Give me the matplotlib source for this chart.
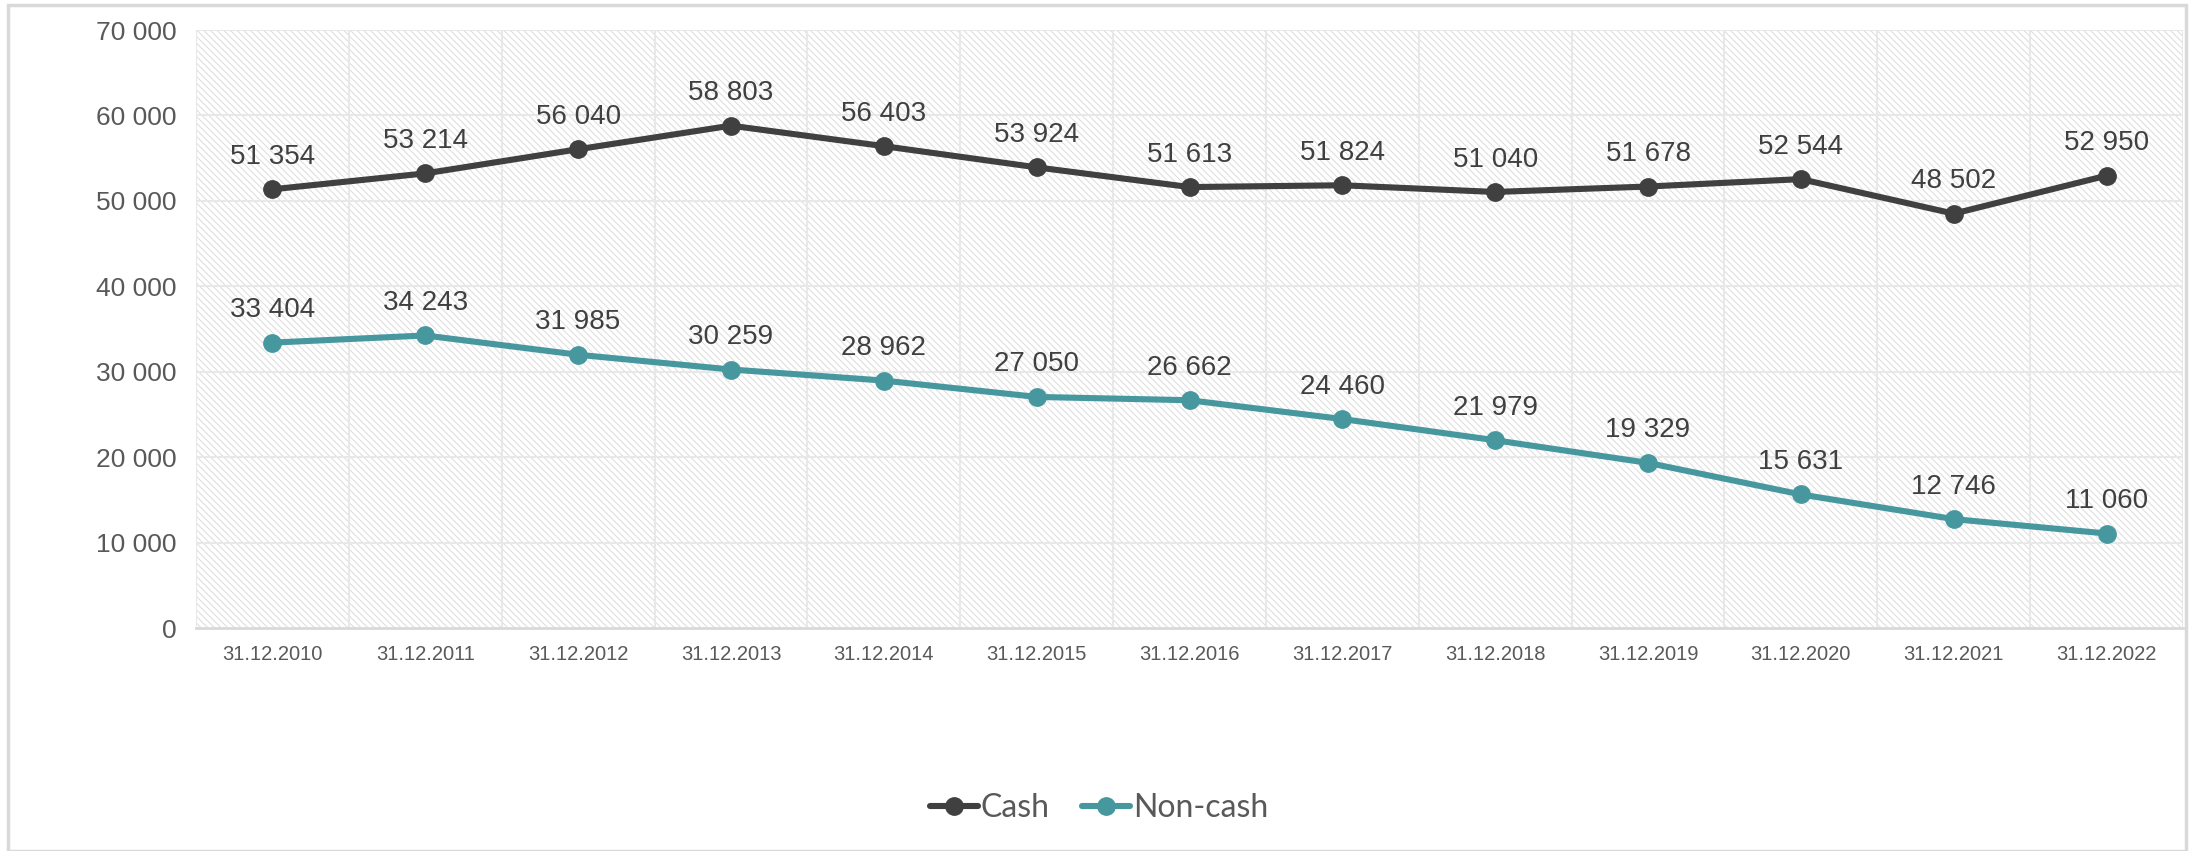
import matplotlib.pyplot as plt
from matplotlib.patches import Rectangle

dates = ["31.12.2010", "31.12.2011", "31.12.2012", "31.12.2013", "31.12.2014",
         "31.12.2015", "31.12.2016", "31.12.2017", "31.12.2018", "31.12.2019",
         "31.12.2020", "31.12.2021", "31.12.2022"]
cash = [51354, 53214, 56040, 58803, 56403, 53924, 51613, 51824, 51040, 51678, 52544, 48502, 52950]
non_cash = [33404, 34243, 31985, 30259, 28962, 27050, 26662, 24460, 21979, 19329, 15631, 12746, 11060]
yticks = [0, 10000, 20000, 30000, 40000, 50000, 60000, 70000]

plt.rcParams['font.family'] = ['Liberation Sans', 'DejaVu Sans']


def fmt(v):
    return f"{v:,}".replace(",", " ")


fig = plt.figure(figsize=(21.95, 8.51), dpi=100)
ax = fig.add_axes([196 / 2195, 1 - 628 / 851, (2183 - 196) / 2195, (628 - 30) / 851])

# outer chart border
fig.patches.append(Rectangle((8 / 2195, 0), (2186 - 8) / 2195, 1 - 5 / 851, transform=fig.transFigure,
                             facecolor='none', edgecolor='#d9d9d9', linewidth=2.5))

# hatched plot area
plt.rcParams['hatch.linewidth'] = 0.7
ax.patch.set_facecolor('white')
ax.add_patch(Rectangle((0, 0), 1, 1, transform=ax.transAxes, facecolor='white',
                       edgecolor='#dcdcdc', linewidth=0, hatch='\\\\\\\\\\', zorder=0))

x = list(range(len(dates)))
ax.set_xlim(-0.5, len(dates) - 0.5)
ax.set_ylim(0, 70000)

for k in range(len(dates) + 1):
    ax.axvline(k - 0.5, color='#e8e8e8', linewidth=1.5, zorder=1)
for t in yticks[1:]:
    ax.axhline(t, color='#e8e8e8', linewidth=1.5, zorder=1)

ax.plot(x, cash, color='#404040', linewidth=4.4, marker='o', markersize=12.5,
        solid_capstyle='round', label='Cash', zorder=3)
ax.plot(x, non_cash, color='#47989e', linewidth=4.4, marker='o', markersize=12.5,
        solid_capstyle='round', label='Non-cash', zorder=3)

for xi, v in zip(x, cash):
    ax.annotate(fmt(v), (xi, v), xytext=(0, 14), textcoords='offset points',
                ha='center', va='bottom', fontsize=20, color='#404040')
for xi, v in zip(x, non_cash):
    ax.annotate(fmt(v), (xi, v), xytext=(0, 14), textcoords='offset points',
                ha='center', va='bottom', fontsize=20, color='#404040')

ax.set_xticks(x)
ax.set_xticklabels(dates, fontsize=14.5, color='#595959')
ax.set_yticks(yticks)
ax.set_yticklabels([fmt(t) for t in yticks], fontsize=19, color='#595959')
ax.tick_params(length=0, pad=14)
ax.tick_params(axis='x', pad=12)

for s in ['top', 'right', 'left']:
    ax.spines[s].set_visible(False)
ax.spines['bottom'].set_color('#d9d9d9')
ax.spines['bottom'].set_linewidth(2)

leg = fig.legend(loc='center', bbox_to_anchor=(1099 / 2195, 1 - 808 / 851), ncol=2, frameon=False,
                 prop={'family': 'Lato', 'size': 23}, handlelength=1.5, handletextpad=0.1,
                 columnspacing=1.0, labelcolor='#595959')

fig.savefig('out.png', dpi=100)
